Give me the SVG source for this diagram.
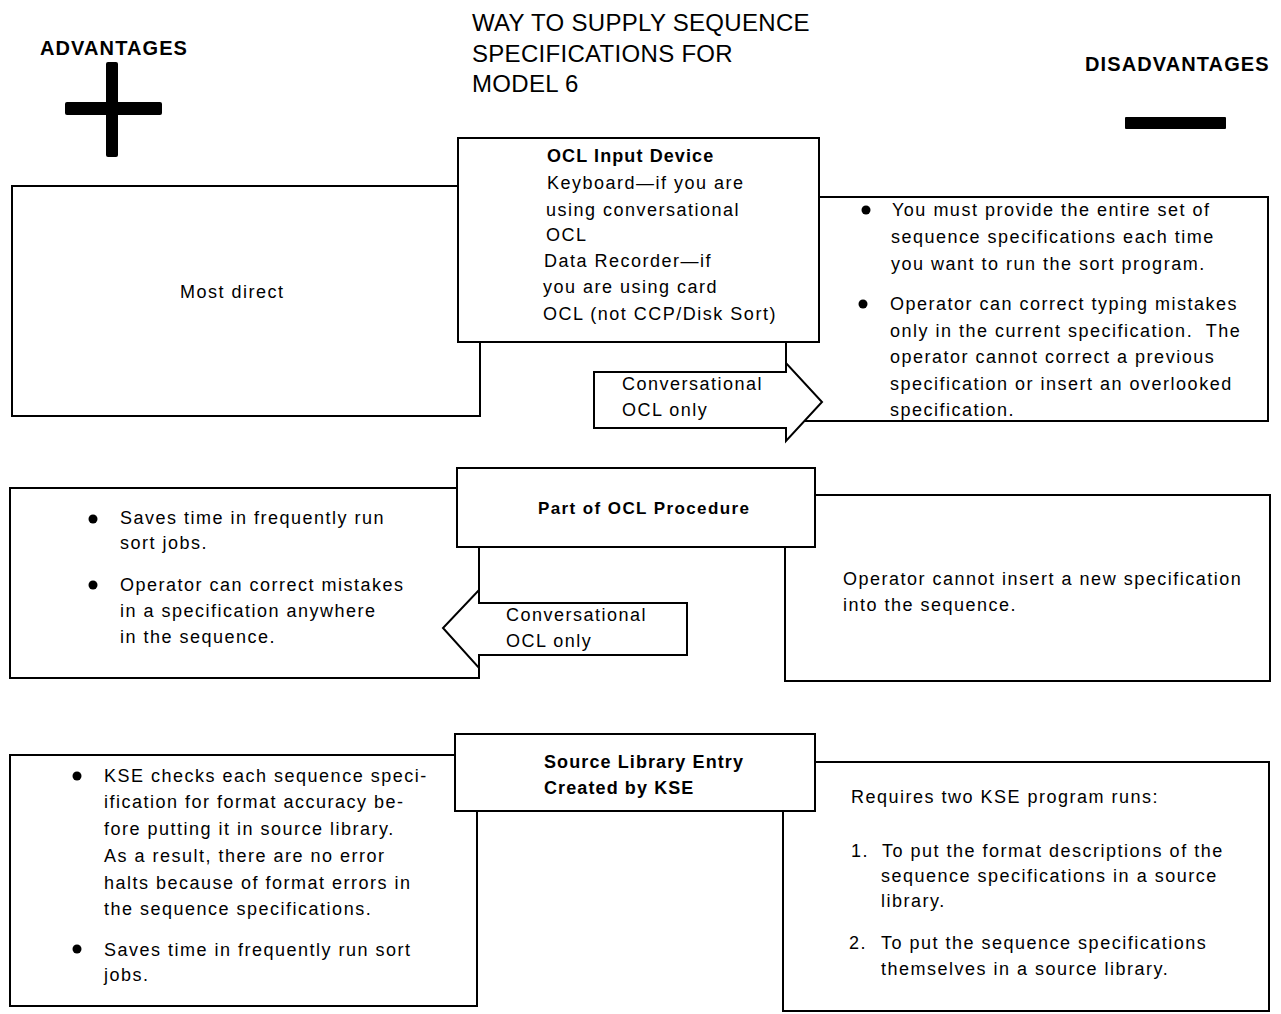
<svg xmlns="http://www.w3.org/2000/svg" width="1281" height="1014" viewBox="0 0 1281 1014">
<style>
.box{fill:#fff;stroke:#000;stroke-width:2}
.arrow{fill:#fff;stroke:#000;stroke-width:2;stroke-linejoin:miter}
.t{font-family:"Liberation Sans",Arial,Helvetica,sans-serif;font-size:18px;letter-spacing:1.5px;fill:#000}
.b{font-weight:bold;letter-spacing:1.1px}
.title{font-size:24px;letter-spacing:0.3px}
.hdr{font-size:20px;font-weight:bold;letter-spacing:1.1px}
.dot{fill:#000}
</style>
<rect width="1281" height="1014" fill="#fff"/>

<g id="header">
<text class="t title" x="472" y="31">WAY TO SUPPLY SEQUENCE</text>
<text class="t title" x="472" y="62">SPECIFICATIONS FOR</text>
<text class="t title" x="472" y="92">MODEL 6</text>
<text class="t hdr" x="40" y="55">ADVANTAGES</text>
<text class="t hdr" x="1085" y="71">DISADVANTAGES</text>
<rect x="106" y="62" width="12" height="95" rx="2" fill="#000"/>
<rect x="65" y="102" width="97" height="13" rx="2" fill="#000"/>
<rect x="1125" y="117" width="101" height="12" rx="1" fill="#000"/>
</g>

<!-- Row 1 -->
<g id="adv-keyboard">
<rect class="box" x="12" y="186" width="468" height="230"/>
<text class="t" x="180" y="298">Most direct</text>
</g>
<g id="dis-keyboard">
<rect class="box" x="786" y="197" width="482" height="224"/>
<circle class="dot" cx="866" cy="210" r="4.5"/>
<text class="t" x="892" y="216">You must provide the entire set of</text>
<text class="t" x="891" y="243">sequence specifications each time</text>
<text class="t" x="891" y="270">you want to run the sort program.</text>
<circle class="dot" cx="863" cy="304" r="4.5"/>
<text class="t" x="890" y="310">Operator can correct typing mistakes</text>
<text class="t" x="890" y="337">only in the current specification.&#160; The</text>
<text class="t" x="890" y="363">operator cannot correct a previous</text>
<text class="t" x="890" y="390">specification or insert an overlooked</text>
<text class="t" x="890" y="416">specification.</text>
</g>
<g id="way-ocl-input">
<rect class="box" x="458" y="138" width="361" height="204"/>
<text class="t b" x="547" y="162">OCL Input Device</text>
<text class="t" x="547" y="189">Keyboard—if you are</text>
<text class="t" x="546" y="216">using conversational</text>
<text class="t" x="546" y="241">OCL</text>
<text class="t" x="544" y="267">Data Recorder—if</text>
<text class="t" x="543" y="293">you are using card</text>
<text class="t" x="543" y="320">OCL (not CCP/Disk Sort)</text>
</g>

<!-- Row 2 -->
<g id="adv-procedure">
<rect class="box" x="10" y="488" width="469" height="190"/>
<circle class="dot" cx="93" cy="519" r="4.5"/>
<text class="t" x="120" y="524">Saves time in frequently run</text>
<text class="t" x="120" y="549">sort jobs.</text>
<circle class="dot" cx="93" cy="585" r="4.5"/>
<text class="t" x="120" y="591">Operator can correct mistakes</text>
<text class="t" x="120" y="617">in a specification anywhere</text>
<text class="t" x="120" y="643">in the sequence.</text>
</g>
<g id="dis-procedure">
<rect class="box" x="785" y="495" width="485" height="186"/>
<text class="t" x="843" y="585">Operator cannot insert a new specification</text>
<text class="t" x="843" y="611">into the sequence.</text>
</g>
<g id="way-procedure">
<rect class="box" x="457" y="468" width="358" height="79"/>
<text class="t b" x="538" y="514" style="font-size:17px;letter-spacing:1.4px">Part of OCL Procedure</text>
</g>

<!-- Row 3 -->
<g id="adv-kse">
<rect class="box" x="10" y="755" width="467" height="251"/>
<circle class="dot" cx="77" cy="776" r="4.5"/>
<text class="t" x="104" y="782">KSE checks each sequence speci-</text>
<text class="t" x="104" y="808">ification for format accuracy be-</text>
<text class="t" x="104" y="835">fore putting it in source library.</text>
<text class="t" x="104" y="862">As a result, there are no error</text>
<text class="t" x="104" y="889">halts because of format errors in</text>
<text class="t" x="104" y="915">the sequence specifications.</text>
<circle class="dot" cx="77" cy="949" r="4.5"/>
<text class="t" x="104" y="956">Saves time in frequently run sort</text>
<text class="t" x="104" y="981">jobs.</text>
</g>
<g id="dis-kse">
<rect class="box" x="783" y="762" width="486" height="249"/>
<text class="t" x="851" y="803">Requires two KSE program runs:</text>
<text class="t" x="851" y="857">1.</text>
<text class="t" x="882" y="857">To put the format descriptions of the</text>
<text class="t" x="881" y="882">sequence specifications in a source</text>
<text class="t" x="881" y="907">library.</text>
<text class="t" x="849" y="949">2.</text>
<text class="t" x="881" y="949">To put the sequence specifications</text>
<text class="t" x="881" y="975">themselves in a source library.</text>
</g>
<g id="way-kse">
<rect class="box" x="455" y="734" width="360" height="77"/>
<text class="t b" x="544" y="768">Source Library Entry</text>
<text class="t b" x="544" y="794">Created by KSE</text>
</g>

<g id="connectors">
<g id="arrow-conv-1">
<polygon class="arrow" points="594,372 786,372 786,363 822,402 786,441 786,428 594,428"/>
<text class="t" x="622" y="390">Conversational</text>
<text class="t" x="622" y="416">OCL only</text>
</g>
<g id="arrow-conv-2">
<polygon class="arrow" points="687,603 479,603 479,590 443,628 479,668 479,655 687,655"/>
<text class="t" x="506" y="621">Conversational</text>
<text class="t" x="506" y="647">OCL only</text>
</g>
</g>
</svg>
